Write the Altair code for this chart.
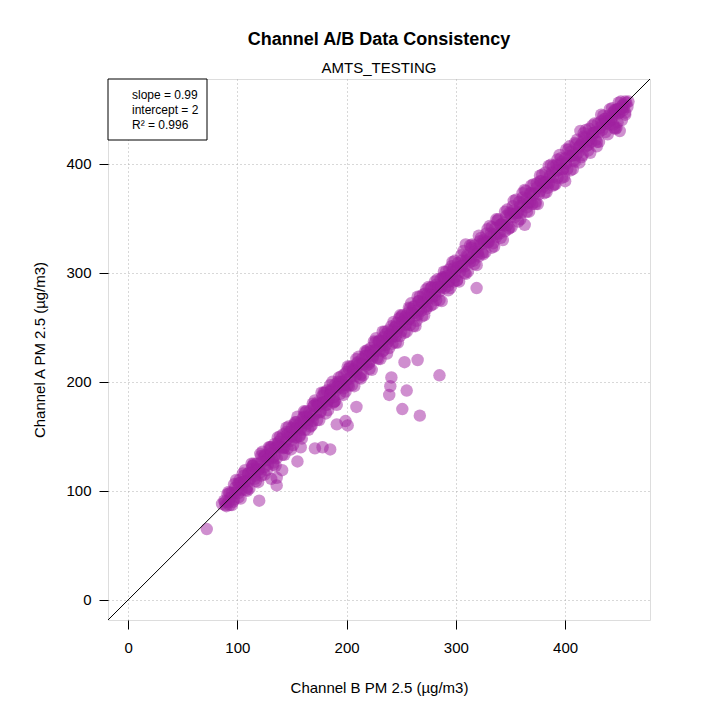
import altair as alt
import pandas as pd

# Main band of points (Channel B, Channel A)
band_b = [88, 90, 92, 94, 96, 98, 100, 102, 104, 106,
          108, 110, 112, 114, 116, 118, 120, 122, 124, 126,
          128, 130, 132, 134, 136, 138, 140, 142, 144, 146,
          148, 150, 152, 154, 156, 158, 160, 162, 164, 166,
          168, 170, 172, 174, 176, 178, 180, 182, 184, 186,
          188, 190, 192, 194, 196, 198, 200, 202, 204, 206,
          208, 210, 212, 214, 216, 218, 220, 222, 224, 226,
          228, 230, 232, 234, 236, 238, 240, 242, 244, 246,
          248, 250, 252, 254, 256, 258, 260, 262, 264, 266,
          268, 270, 272, 274, 276, 278, 280, 282, 284, 286,
          288, 290, 292, 294, 296, 298, 300, 302, 304, 306,
          308, 310, 312, 314, 316, 318, 320, 322, 324, 326,
          328, 330, 332, 334, 336, 338, 340, 342, 344, 346,
          348, 350, 352, 354, 356, 358, 360, 362, 364, 366,
          368, 370, 372, 374, 376, 378, 380, 382, 384, 386,
          388, 390, 392, 394, 396, 398, 400, 402, 404, 406,
          408, 410, 412, 414, 416, 418, 420, 422, 424, 426,
          428, 430, 432, 434, 436, 438, 440, 442, 444, 446,
          448, 450, 452, 454, 456]
band_a = [91, 86, 99, 94, 90, 103, 101, 110, 101, 108,
          101, 116, 111, 123, 111, 122, 120, 114, 131, 128,
          124, 140, 130, 139, 130, 141, 148, 139, 145, 139,
          154, 150, 161, 149, 158, 156, 167, 156, 168, 167,
          160, 178, 171, 179, 172, 181, 190, 179, 184, 192,
          181, 192, 200, 189, 200, 197, 209, 196, 205, 211,
          205, 217, 204, 217, 216, 224, 216, 231, 222, 228,
          222, 237, 233, 229, 244, 237, 244, 235, 250, 246,
          258, 246, 255, 252, 263, 252, 265, 263, 256, 274,
          265, 272, 281, 269, 280, 277, 286, 275, 287, 286,
          296, 286, 297, 292, 306, 292, 302, 309, 301, 307,
          300, 316, 312, 323, 311, 322, 319, 329, 318, 329,
          336, 328, 333, 327, 341, 348, 336, 344, 343, 352,
          340, 354, 361, 351, 356, 365, 355, 365, 375, 364,
          373, 363, 373, 382, 372, 384, 379, 392, 378, 388,
          392, 381, 399, 394, 405, 395, 405, 395, 416, 407,
          403, 418, 410, 417, 408, 424, 420, 432, 420, 428,
          422, 437, 433, 431, 441, 437, 444, 440, 447, 446,
          450, 447, 453, 452, 456]

fill_b = [86, 89, 93, 97, 101, 105, 109, 113, 117, 121, 125,
          129, 133, 137, 141, 145, 149, 153, 157, 161, 165,
          169, 173, 177, 181, 185, 189, 193, 197, 201, 205,
          209, 213, 217, 221, 225, 229, 233, 237, 241, 245,
          249, 253, 257, 261, 265, 269, 273, 277, 281, 285,
          289, 293, 297, 301, 305, 309, 313, 317, 321, 325,
          329, 333, 337, 341, 345, 349, 353, 357, 361, 365,
          369, 373, 377, 381, 385, 389, 393, 397, 401, 405,
          409, 413, 417, 421, 425, 429, 433, 437, 441, 445,
          449, 453, 458, 457, 446, 450, 444, 452, 455, 448,
          309, 363, 400, 414]
fill_a = [88, 87, 98, 92, 107, 106, 103, 120, 120, 117, 133,
          131, 126, 143, 140, 154, 146, 157, 151, 168, 165,
          164, 181, 180, 179, 191, 182, 198, 197, 197, 214,
          210, 207, 224, 218, 229, 237, 228, 239, 240, 251,
          242, 258, 257, 269, 261, 272, 267, 286, 282, 283,
          296, 288, 301, 293, 311, 311, 310, 325, 315, 330,
          329, 342, 333, 344, 338, 355, 354, 355, 369, 360,
          373, 365, 384, 383, 382, 398, 387, 402, 400, 411,
          402, 416, 425, 417, 426, 420, 439, 439, 436, 449,
          446, 454, 457, 452, 432, 430, 436, 440, 445, 438,
          326, 344, 384, 430]

edge_b = [91, 95, 99, 103, 107, 111, 115, 119, 123, 127,
          131, 135, 139, 143, 147, 151, 155, 159, 163, 167,
          171, 175, 179, 183, 187, 191, 195, 199, 203, 207,
          211, 215, 219, 223, 227, 231, 235, 239, 243, 247,
          251, 255, 259, 263, 267, 271, 275, 279, 283, 287,
          291, 295, 299, 303, 307, 311, 315, 319, 323, 327,
          331, 335, 339, 343, 347, 351, 355, 359, 363, 367,
          371, 375, 379, 383, 387, 391, 395, 399, 403, 407,
          411, 415, 419, 423, 427, 431, 435, 439, 443, 447,
          451, 455]
edge_a = [97, 87, 110, 93, 119, 102, 125, 108, 136, 119,
          140, 123, 150, 133, 159, 142, 168, 148, 173, 159,
          183, 165, 190, 174, 200, 179, 205, 191, 214, 196,
          223, 206, 229, 211, 240, 221, 246, 231, 255, 236,
          261, 246, 272, 251, 278, 261, 287, 271, 294, 274,
          301, 286, 311, 292, 320, 301, 326, 307, 332, 319,
          343, 324, 349, 330, 358, 342, 367, 349, 376, 356,
          381, 363, 390, 374, 399, 381, 408, 388, 413, 395,
          422, 406, 431, 410, 437, 420, 444, 427, 451, 433,
          457, 447]

edge2_b = [93, 97, 101, 105, 109, 113, 117, 121, 125, 129,
           133, 137, 141, 145, 149, 153, 157, 161, 165, 169,
           173, 177, 181, 185, 189, 193, 197, 201, 205, 209,
           213, 217, 221, 225, 229, 233, 237, 241, 245, 249,
           253, 257, 261, 265, 269, 273, 277, 281, 285, 289,
           293, 297, 301, 305, 309, 313, 317, 321, 325, 329,
           333, 337, 341, 345, 349, 353, 357, 361, 365, 369,
           373, 377, 381, 385, 389, 393, 397, 401, 405, 409,
           413, 417, 421, 425, 429, 433, 437, 441, 445, 449,
           453]
edge2_a = [87, 106, 94, 116, 100, 125, 109, 134, 115, 140,
           124, 149, 133, 158, 138, 163, 150, 173, 156, 180,
           165, 190, 171, 197, 182, 204, 188, 214, 197, 221,
           203, 228, 212, 237, 221, 246, 226, 251, 236, 261,
           245, 268, 251, 278, 260, 285, 270, 292, 275, 301,
           284, 310, 293, 316, 299, 325, 308, 334, 317, 340,
           323, 349, 332, 356, 341, 366, 347, 373, 356, 380,
           363, 389, 373, 398, 380, 404, 387, 413, 394, 419,
           401, 428, 412, 435, 416, 445, 429, 450, 433, 456,
           449]

upper_b = [102, 106, 110, 114, 118, 122, 126, 130, 134, 138,
           142, 146, 150, 154, 158, 162, 166, 170, 174, 178,
           182, 186, 190, 194, 198, 202, 206, 210, 214, 218,
           222, 226, 230, 234, 238, 242, 246, 250, 254, 258,
           262, 266, 270, 274, 278, 282, 286, 290, 294, 298]
upper_a = [107, 114, 116, 123, 125, 132, 132, 138, 143, 145,
           152, 152, 158, 163, 163, 172, 173, 178, 180, 187,
           192, 193, 198, 200, 207, 212, 211, 218, 221, 227,
           228, 236, 238, 241, 247, 247, 254, 260, 260, 267,
           269, 274, 280, 280, 287, 289, 294, 295, 303, 304]

core_b = [89, 92, 95, 98, 101, 104, 107, 110, 113, 116,
          119, 122, 125, 128, 131, 134, 137, 140, 143, 146,
          149, 152, 155, 158, 161, 164, 167, 170, 173, 176,
          179, 182, 185, 188, 191, 194, 197, 200, 203, 206,
          209, 212, 215, 218, 221, 224, 227, 230, 233, 236,
          239, 242, 245, 248, 251, 254, 257, 260, 263, 266,
          269, 272, 275, 278, 281, 284, 287, 290, 293, 296,
          299, 302, 305, 308, 311, 314, 317, 320, 323, 326,
          329, 332, 335, 338, 341, 344, 347, 350, 353, 356,
          359, 362, 365, 368, 371, 374, 377, 380, 383, 386,
          389, 392, 395, 398, 401, 404, 407, 410, 413, 416,
          419, 422, 425, 428, 431, 434, 437, 440, 443, 446,
          449, 452, 455]
core_a = [90, 90, 98, 98, 98, 108, 109, 109, 116, 114,
          119, 126, 122, 129, 134, 132, 141, 140, 140, 148,
          150, 149, 159, 158, 163, 162, 170, 169, 177, 173,
          181, 182, 188, 186, 195, 195, 194, 202, 203, 209,
          207, 216, 216, 215, 224, 224, 229, 229, 237, 234,
          242, 242, 242, 250, 255, 253, 258, 263, 261, 266,
          273, 269, 277, 279, 279, 287, 287, 294, 292, 298,
          296, 305, 306, 306, 315, 314, 319, 317, 326, 327,
          328, 336, 335, 336, 344, 346, 344, 351, 357, 355,
          361, 362, 368, 365, 372, 378, 375, 382, 383, 389,
          388, 394, 399, 395, 401, 407, 408, 408, 415, 420,
          416, 422, 428, 429, 429, 436, 441, 439, 443, 449,
          450, 451, 457]

# Outliers below the band
out_b = [72, 120, 131, 136, 136, 141, 155, 158, 171, 178, 185, 191, 199, 201,
         209, 239, 240, 241, 251, 255, 253, 265, 267, 285, 319]
out_a = [65, 91, 111, 105, 112, 119, 127, 140, 139, 140, 138, 161, 164, 160,
         177, 188, 196, 204, 175, 192, 218, 220, 169, 206, 286]

legend_lines = ["slope = 0.99", "intercept = 2", "R\u00b2 = 0.996"]
axis_ticks = [0, 100, 200, 300, 400]
lim = [-18.4, 477.7]

pts = pd.DataFrame({
    "b": band_b + fill_b + edge_b + edge2_b + upper_b + core_b + out_b,
    "a": band_a + fill_a + edge_a + edge2_a + upper_a + core_a + out_a,
})
line_df = pd.DataFrame({"b": [lim[0]], "a": [lim[0]], "b2": [lim[1]], "a2": [lim[1]]})

FONT = "Liberation Sans"
xs = alt.Scale(domain=lim, nice=False, zero=False)
ys = alt.Scale(domain=lim, nice=False, zero=False)

xaxis = alt.Axis(values=axis_ticks, title="Channel B PM 2.5 (\u00b5g/m3)", grid=True,
                 gridDash=[1, 3], gridColor="#b0b0b0", gridWidth=1,
                 domain=False, ticks=True, tickSize=9, tickColor="black",
                 labelFontSize=15, labelFont=FONT, labelColor="black", labelPadding=11,
                 titleFontSize=15, titleFont=FONT, titleFontWeight="normal",
                 titleColor="black", titlePadding=25, labelFlush=False)
yaxis = alt.Axis(values=axis_ticks, title="Channel A PM 2.5 (\u00b5g/m3)", grid=True,
                 gridDash=[1, 3], gridColor="#b0b0b0", gridWidth=1,
                 domain=False, ticks=True, tickSize=9, tickColor="black",
                 labelFontSize=15, labelFont=FONT, labelColor="black", labelPadding=8,
                 titleFontSize=15, titleFont=FONT, titleFontWeight="normal",
                 titleColor="black", titlePadding=18, labelFlush=False)

points = alt.Chart(pts).mark_circle(size=155, color="#A020A0", opacity=0.5).encode(
    x=alt.X("b:Q", scale=xs, axis=xaxis),
    y=alt.Y("a:Q", scale=ys, axis=yaxis),
)

fit = alt.Chart(line_df).mark_rule(color="black", strokeWidth=1).encode(
    x=alt.X("b:Q", scale=xs), y=alt.Y("a:Q", scale=ys),
    x2="b2:Q", y2="a2:Q",
)

box = alt.Chart(line_df).mark_rect(
    fill="white", stroke="black", strokeWidth=1
).encode(x=alt.value(0), x2=alt.value(99), y=alt.value(0), y2=alt.value(61))


def legend_line(txt, ypos):
    return alt.Chart(pd.DataFrame({"t": [txt]})).mark_text(
        align="left", baseline="middle", fontSize=12, font=FONT, color="black"
    ).encode(x=alt.value(24), y=alt.value(ypos), text="t:N")


chart = alt.layer(
    points, fit, box,
    legend_line(legend_lines[0], 16),
    legend_line(legend_lines[1], 31),
    legend_line(legend_lines[2], 46),
).properties(
    width=542, height=541,
    title=alt.TitleParams(
        text="Channel A/B Data Consistency", subtitle="AMTS_TESTING",
        font=FONT, fontSize=18, fontWeight="bold", color="black",
        subtitleFont=FONT, subtitleFontSize=15, subtitleColor="black",
        subtitlePadding=12, offset=3, anchor="middle",
    ),
    autosize=alt.AutoSizeParams(type="none"),
    padding={"left": 100, "top": 71, "right": 20, "bottom": 90},
).configure_view(stroke="black", strokeWidth=1).configure(background="white")

chart.save("out.html", embed_options={"renderer": "svg", "actions": False})
